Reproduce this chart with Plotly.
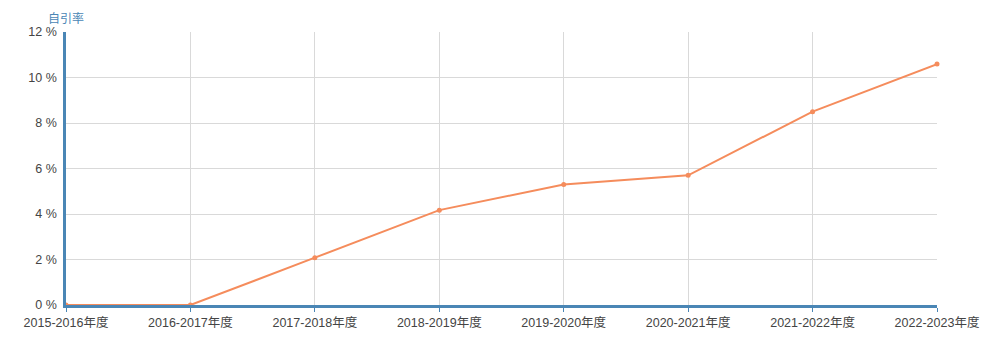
import plotly.graph_objects as go

categories = ["2015-2016年度", "2016-2017年度", "2017-2018年度", "2018-2019年度",
              "2019-2020年度", "2020-2021年度", "2021-2022年度", "2022-2023年度"]
self_citation_rate = [0.0, 0.0, 2.08, 4.17, 5.3, 5.7, 8.5, 10.59]
y_ticks = [0, 2, 4, 6, 8, 10, 12]
y_tick_labels = [f"{v} %" for v in y_ticks]

xpos = list(range(len(categories)))

fig = go.Figure()
fig.add_trace(go.Scatter(
    x=xpos, y=self_citation_rate, mode="lines+markers",
    line=dict(color="#f58c5c", width=2),
    marker=dict(color="#f58c5c", size=5),
    cliponaxis=False, showlegend=False,
))

fig.update_layout(
    width=1004, height=354,
    margin=dict(l=66, r=67, t=32, b=49),
    plot_bgcolor="white", paper_bgcolor="white",
    font=dict(family="Arial, Liberation Sans, Noto Sans CJK SC, sans-serif", size=12, color="#444444"),
    annotations=[dict(text="自引率", x=0, xref="paper", y=1, yref="paper",
                      yshift=4, xanchor="center", yanchor="bottom", showarrow=False,
                      font=dict(color="#4a86b5", size=12))],
)
fig.update_xaxes(
    range=[0, len(categories) - 1], tickvals=xpos, ticktext=categories,
    showgrid=True, gridcolor="#d9d9d9", gridwidth=1,
    showline=True, linecolor="#4a86b5", linewidth=2.5,
    ticks="outside", ticklen=4, tickcolor="#4a86b5",
    zeroline=False, tickfont=dict(size=12.5, color="#444444"),
)
fig.update_yaxes(
    range=[0, 12], tickvals=y_ticks, ticktext=y_tick_labels,
    showgrid=True, gridcolor="#d9d9d9", gridwidth=1,
    showline=True, linecolor="#4a86b5", linewidth=2.5,
    zeroline=False, ticks="", ticklabelstandoff=4,
    tickfont=dict(size=12.5, color="#444444"),
)
fig.write_html("out.html")
